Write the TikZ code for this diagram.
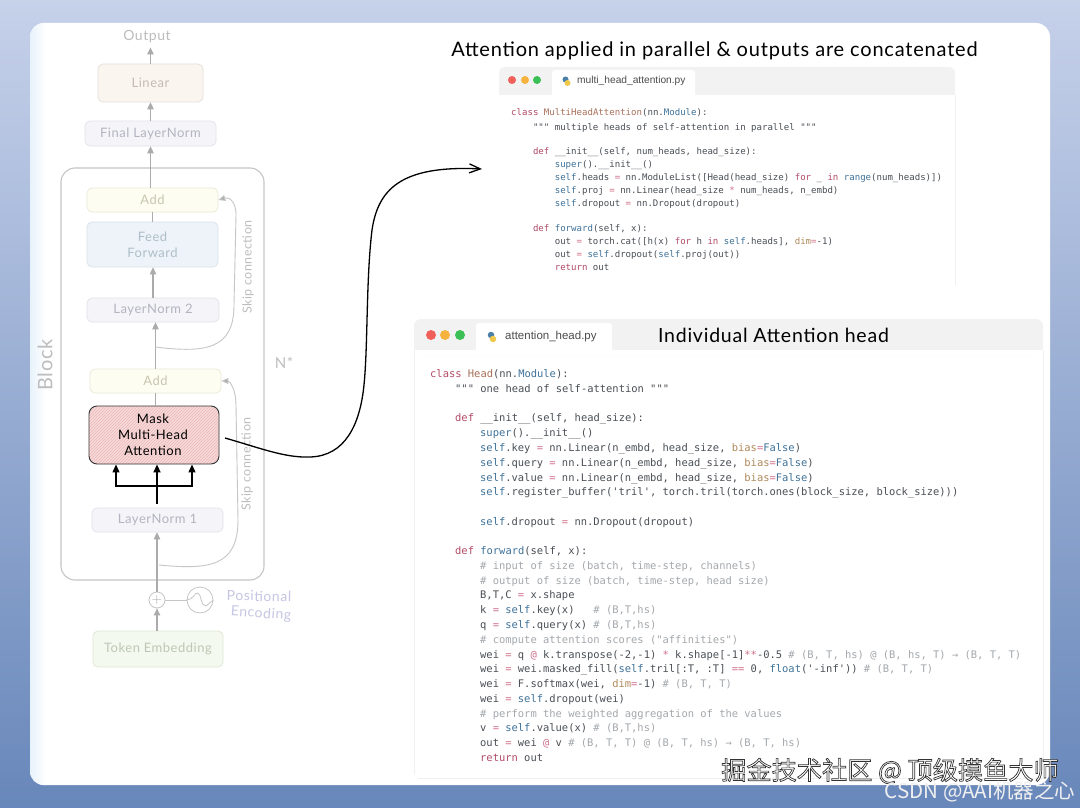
\documentclass[tikz,border=0pt]{standalone}
\usepackage{fontspec}
\usetikzlibrary{arrows.meta,patterns,calc}
\newfontfamily\hand[LetterSpace=4]{Lato}
\newfontfamily\codefont{DejaVu Sans Mono}
\newfontfamily\uifont{Liberation Sans}
\newfontfamily\cjkfont{Noto Sans CJK SC}
\definecolor{cbase}{HTML}{4A4F55}
\definecolor{ckw}{HTML}{B24A66}
\definecolor{cname}{HTML}{A8705A}
\definecolor{cblue}{HTML}{3F7299}
\definecolor{cattr}{HTML}{B08A5A}
\definecolor{cop}{HTML}{D0708A}
\definecolor{ccom}{HTML}{A4A8AC}
\definecolor{cedge}{HTML}{C6C6C6}
\definecolor{carrow}{HTML}{ABABAB}
\definecolor{hdr}{HTML}{F2F2F2}
\definecolor{flinear}{HTML}{FAF5EE}
\definecolor{fnorm}{HTML}{F4F4F9}
\definecolor{fadd}{HTML}{FDFDF1}
\definecolor{ffeed}{HTML}{EDF3F8}
\definecolor{ftoken}{HTML}{F4F9EF}
\definecolor{fmask}{HTML}{F7DADA}
\definecolor{hmask}{HTML}{EDB8B8}
\definecolor{elinear}{HTML}{E4DFD8}
\definecolor{enorm}{HTML}{E2E2EA}
\definecolor{eadd}{HTML}{E9E9D8}
\definecolor{efeed}{HTML}{D8E2EA}
\definecolor{etoken}{HTML}{DCE6D4}
\definecolor{tlinear}{HTML}{C4BAB2}
\definecolor{tnorm}{HTML}{B4B4C0}
\definecolor{tadd}{HTML}{C6C6B0}
\definecolor{tfeed}{HTML}{AEBEC8}
\definecolor{ttoken}{HTML}{BCC8B4}
\definecolor{tenc}{HTML}{C6C6E4}
\definecolor{tgrey}{HTML}{BDBDBD}
\definecolor{dred}{HTML}{F0605A}
\definecolor{damb}{HTML}{F5B23E}
\definecolor{dgrn}{HTML}{3CBF55}
\definecolor{pyb}{HTML}{4A7FA8}
\definecolor{pyy}{HTML}{F0C94A}
\newcommand\kw[1]{\textcolor{ckw}{#1}}
\newcommand\nm[1]{\textcolor{cname}{#1}}
\newcommand\bl[1]{\textcolor{cblue}{#1}}
\newcommand\attr[1]{\textcolor{cattr}{#1}}
\newcommand\cm[1]{\textcolor{ccom}{#1}}
\newcommand\eq{\textcolor{cop}{=}}
\newcommand\slf{\textcolor{cblue}{self}}
\newcommand\cl[4]{\node[codeline] (#1) at (#2,#3) {#4};}
\newcommand\codesize{9.06}
\tikzset{
  x=1pt,y=-1pt,
  codeline/.style={anchor=base west,inner sep=0pt,text=cbase,font=\codefont\fontsize{\codesize}{12}\selectfont},
  blockbox/.style n args={4}{draw=#2,fill=#1,text=#3,rounded corners=5pt,line width=0.7pt,align=center,inner sep=0pt,
     font=\hand\fontsize{#4}{16}\selectfont},
  flow/.style={draw=carrow,line width=1.1pt,-{Triangle[length=7pt,width=6.5pt]}},
  plainflow/.style={draw=carrow,line width=1.1pt},
  skipline/.style={draw=cedge,line width=0.9pt,-{Triangle[length=7pt,width=6pt,fill=carrow]}},
  blackflow/.style={draw=black,line width=1.3pt,-{Triangle[length=8pt,width=7pt]}},
  handlabel/.style 2 args={font=\hand\fontsize{#1}{#1}\selectfont,text=#2,inner sep=0pt,align=center},
  dotnode/.style 2 args={circle,inner sep=0pt,minimum size=#1,fill=#2},
  tabtext/.style={font=\uifont\fontsize{#1}{#1}\selectfont,text=black!70,inner sep=0pt,anchor=west},
  titletext/.style={font=\hand\fontsize{#1}{#1}\selectfont,text=black,inner sep=0pt},
}
\begin{document}
\begin{tikzpicture}
\useasboundingbox (0,0) rectangle (1080,808);
\shade[top color={rgb,255:red,198;green,209;blue,234},bottom color={rgb,255:red,104;green,135;blue,186}] (0,0) rectangle (1080,808);
\fill[white,rounded corners=14pt] (30,23) rectangle (1050,785);
\begin{scope}
\clip[rounded corners=14pt] (30,23) rectangle (1050,785);
\shade[left color={rgb,255:red,232;green,242;blue,251},right color=white] (30,23) rectangle (46,785);
\end{scope}

% ---- block outline
\node[draw=cedge,line width=1.1pt,rounded corners=14pt,minimum width=203pt,minimum height=412pt,inner sep=0pt] (block) at (162.5,374) {};
\node[handlabel={20}{tgrey},rotate=90] (blocklabel) at (45,365) {Block};
\node[handlabel={15}{tgrey}] (nstar) at (284,363) {N*};

% ---- stack
\node[handlabel={14}{tgrey}] (output) at (147,37) {Output};
\node[blockbox={flinear}{elinear}{tlinear}{13},minimum width=105pt,minimum height=38pt] (linear) at (150.5,83) {Linear};
\node[blockbox={fnorm}{enorm}{tnorm}{13},minimum width=131pt,minimum height=25pt] (final) at (150.5,133.5) {Final LayerNorm};
\node[blockbox={fadd}{eadd}{tadd}{13},minimum width=131pt,minimum height=24pt] (add2) at (152.5,200) {Add};
\node[blockbox={ffeed}{efeed}{tfeed}{13},minimum width=131pt,minimum height=45pt] (feed) at (152.5,244.5) {Feed\\Forward};
\node[blockbox={fnorm}{enorm}{tnorm}{13},minimum width=132pt,minimum height=24pt] (norm2) at (153,310) {LayerNorm 2};
\node[blockbox={fadd}{eadd}{tadd}{13},minimum width=131pt,minimum height=24pt] (add1) at (155.5,381) {Add};
\node[draw=black!80,line width=0.9pt,rounded corners=8pt,minimum width=130pt,minimum height=58pt,inner sep=0pt,
  preaction={fill=fmask},pattern=north east lines,pattern color=hmask] (mask) at (154,435) {};
\node[handlabel={13}{black},text width=130pt,font=\hand\fontsize{13}{16}\selectfont] (masklabel) at (153,435) {Mask\\Multi-Head\\Attention};
\node[blockbox={fnorm}{enorm}{tnorm}{13},minimum width=131pt,minimum height=24pt] (norm1) at (157.5,520) {LayerNorm 1};
\node[draw=cedge,circle,line width=0.8pt,minimum size=16pt,inner sep=0pt,font=\fontsize{14}{14}\selectfont,text=carrow] (plus) at (157,600) {+};
\node[draw=cedge,circle,line width=0.8pt,minimum size=26pt,inner sep=0pt] (osc) at (200,600) {};
\node[blockbox={ftoken}{etoken}{ttoken}{13},minimum width=130pt,minimum height=36pt] (token) at (158,649) {Token Embedding};
\node[handlabel={14}{tenc},rotate=-1] (posa) at (259,596) {Positional};
\node[handlabel={14}{tenc},rotate=-4] (posb) at (261,614) {Encoding};
\node[handlabel={12.5}{tgrey},rotate=90] (skip2) at (248,267) {Skip connection};
\node[handlabel={12.5}{tgrey},rotate=90] (skip1) at (247,464) {Skip connection};

% ---- grey connectors
\draw[flow,shorten >=4pt] (linear.north) -- (output.south -| linear.north);
\draw[flow] (final.north) -- (linear.south);
\draw[flow] (add2.north -| final.north) -- (final.south);
\draw[plainflow] (feed.north -| add2.north) -- (add2.south);
\draw[flow] (norm2.north) -- (feed.south -| norm2.north);
\draw[flow] (add1.north) -- (norm2.south -| add1.north);
\draw[plainflow] (mask.north -| add1.north) -- (add1.south);
\draw[flow] (plus.north) -- (norm1.south -| plus.north);
\draw[flow] (token.north -| plus.south) -- (plus.south);
\draw[draw=cedge,line width=0.8pt] (plus.east) -- (osc.west);
\draw[cedge,line width=0.8pt] (osc.west) .. controls (193,600) and (195,592) .. (198,593) .. controls (202,595) and (200,606) .. (206,606) -- (osc.east);

% ---- skip connections
\coordinate (s2start) at (155,347);
\coordinate (s1start) at (159,565);
\draw[skipline] (s2start) .. controls (205,353) and (234,350) .. (234,305) -- (236,215) .. controls (236,200) and (228,197) .. (add2.east);
\draw[skipline] (s1start) .. controls (210,570) and (238,566) .. (238,520) -- (236,405) .. controls (236,390) and (230,381) .. (add1.east);

% ---- black arrows
\coordinate (bstart) at (157,504);
\coordinate (bleft) at (116,486);
\coordinate (bright) at (192,486);
\coordinate (bmid) at (157,486);
\draw[blackflow,line width=1.8pt] (bstart) -- (bstart |- mask.south);
\draw[blackflow] (bmid) -- (bleft) -- (bleft |- mask.south);
\draw[blackflow] (bmid) -- (bright) -- (bright |- mask.south);

% ---- upper window
\fill[hdr,rounded corners=6pt] (499,67) rectangle (955,100);
\fill[white] (499,95) rectangle (955,100);
\fill[white,rounded corners=3pt] (552,70) rectangle (695,100);
\draw[black!6,line width=0.7pt] (955,95) -- (955,285);
\node[dotnode={8pt}{dred}] (ur) at (512,80) {};
\node[dotnode={8pt}{damb}] (ua) at (525,80) {};
\node[dotnode={8pt}{dgrn}] (ug) at (537,80) {};
\node[dotnode={6pt}{pyb}] (upyb) at (565.5,79.5) {};
\node[dotnode={6pt}{pyy}] (upyy) at (567.5,83) {};
\node[tabtext=10.2] (utab) at (577,81) {multi\_head\_attention.py};
\node[titletext=20] (utitle) at (714.5,51) {Attention applied in parallel \& outputs are concatenated};

\cl{u1}{511}{116}{\kw{class} \nm{MultiHeadAttention}(nn.\bl{Module}):}
\cl{u2}{532.8}{130}{""" multiple heads of self-attention in parallel """}
\cl{u3}{532.8}{154.5}{\kw{def} \_\_init\_\_(self, num\_heads, head\_size):}
\cl{u4}{554.6}{167}{\bl{super}().\_\_init\_\_()}
\cl{u5}{554.6}{180}{\slf.heads \eq{} nn.ModuleList([Head(head\_size) \kw{for} \_ \kw{in} \bl{range}(num\_heads)])}
\cl{u6}{554.6}{193}{\slf.proj \eq{} nn.Linear(head\_size \textcolor{cop}{*} num\_heads, n\_embd)}
\cl{u7}{554.6}{206}{\slf.dropout \eq{} nn.Dropout(dropout)}
\cl{u8}{532.8}{231.5}{\kw{def} \bl{forward}(self, x):}
\cl{u9}{554.6}{244.5}{out \eq{} torch.cat([h(x) \kw{for} h \kw{in} \slf.heads], \attr{dim}\eq-1)}
\cl{u10}{554.6}{257}{out \eq{} \slf.dropout(\slf.proj(out))}
\cl{u11}{554.6}{270}{\kw{return} out}

% ---- lower window
\fill[hdr,rounded corners=7pt] (414,319) rectangle (1043,355);
\fill[white] (414,350) rectangle (1043,355);
\fill[white,rounded corners=3pt] (476,323) rectangle (612,355);
\draw[black!6,line width=0.7pt] (414,350) -- (414,775);
\draw[black!6,line width=0.7pt] (1043,350) -- (1043,778) -- (418,778);
\node[dotnode={10pt}{dred}] (lr) at (431,335) {};
\node[dotnode={10pt}{damb}] (la) at (445,335) {};
\node[dotnode={10pt}{dgrn}] (lg) at (460,335) {};
\node[dotnode={6.5pt}{pyb}] (lpyb) at (491,335) {};
\node[dotnode={6.5pt}{pyy}] (lpyy) at (493,339) {};
\node[tabtext=11.5] (ltab) at (505,337) {attention\_head.py};
\node[titletext=19.5] (ltitle) at (773.5,335) {Individual Attention head};

\renewcommand\codesize{10.45}
\cl{l1}{430}{377}{\kw{class} \nm{Head}(nn.\bl{Module}):}
\cl{l2}{455}{392}{""" one head of self-attention """}
\cl{l3}{455}{421}{\kw{def} \_\_init\_\_(self, head\_size):}
\cl{l4}{480}{436}{\bl{super}().\_\_init\_\_()}
\cl{l5}{480}{451}{\slf.key \eq{} nn.Linear(n\_embd, head\_size, \attr{bias}\eq\bl{False})}
\cl{l6}{480}{466}{\slf.query \eq{} nn.Linear(n\_embd, head\_size, \attr{bias}\eq\bl{False})}
\cl{l7}{480}{481}{\slf.value \eq{} nn.Linear(n\_embd, head\_size, \attr{bias}\eq\bl{False})}
\cl{l8}{480}{495}{\slf.register\_buffer('tril', torch.tril(torch.ones(block\_size, block\_size)))}
\cl{l9}{480}{525}{\slf.dropout \eq{} nn.Dropout(dropout)}
\cl{l10}{455}{554}{\kw{def} \bl{forward}(self, x):}
\cl{l11}{480}{569}{\cm{\# input of size (batch, time-step, channels)}}
\cl{l12}{480}{584}{\cm{\# output of size (batch, time-step, head size)}}
\cl{l13}{480}{598}{B,T,C \eq{} x.shape}
\cl{l14}{480}{613}{k \eq{} \slf.key(x)\ \ \ \cm{\# (B,T,hs)}}
\cl{l15}{480}{628}{q \eq{} \slf.query(x) \cm{\# (B,T,hs)}}
\cl{l16}{480}{643}{\cm{\# compute attention scores ("affinities")}}
\cl{l17}{480}{658}{wei \eq{} q \textcolor{cop}{@} k.transpose(-2,-1) \textcolor{cop}{*} k.shape[-1]\textcolor{cop}{**}-0.5 \cm{\# (B, T, hs) @ (B, hs, T) → (B, T, T)}}
\cl{l18}{480}{672}{wei \eq{} wei.masked\_fill(\slf.tril[:T, :T] \textcolor{cop}{==} 0, \bl{float}('-inf')) \cm{\# (B, T, T)}}
\cl{l19}{480}{687}{wei \eq{} F.softmax(wei, \attr{dim}\eq-1) \cm{\# (B, T, T)}}
\cl{l20}{480}{702}{wei \eq{} \slf.dropout(wei)}
\cl{l21}{480}{717}{\cm{\# perform the weighted aggregation of the values}}
\cl{l22}{480}{731}{v \eq{} \slf.value(x) \cm{\# (B,T,hs)}}
\cl{l23}{480}{746}{out \eq{} wei \textcolor{cop}{@} v \cm{\# (B, T, T) @ (B, T, hs) → (B, T, hs)}}
\cl{l24}{480}{761}{\kw{return} out}

% ---- black connector
\coordinate (armstart) at (225,438);
\coordinate (armend) at (482,169);
\draw[black,line width=1.3pt,-{Straight Barb[length=11pt,width=9pt]}] (armstart)
  .. controls (260,448) and (285,458) .. (310,457)
  .. controls (345,456) and (360,425) .. (364,385)
  .. controls (368,345) and (366,280) .. (372,230)
  .. controls (378,190) and (400,165) .. (armend);

% ---- watermarks
\node[inner sep=0pt,text=white,font=\cjkfont\fontsize{25.2}{26}\selectfont] (mark1) at (890,771) {\special{pdf:code 2 Tr 0.7 w 0.2 0.2 0.2 RG 1 1 1 rg}掘金技术社区 @ 顶级摸鱼大师\special{pdf:code 0 Tr}};
\node[inner sep=0pt,text=white!88!gray,font=\cjkfont\fontsize{20.5}{21}\selectfont] (mark2) at (980,792) {CSDN @AAI机器之心};
\end{tikzpicture}
\end{document}
